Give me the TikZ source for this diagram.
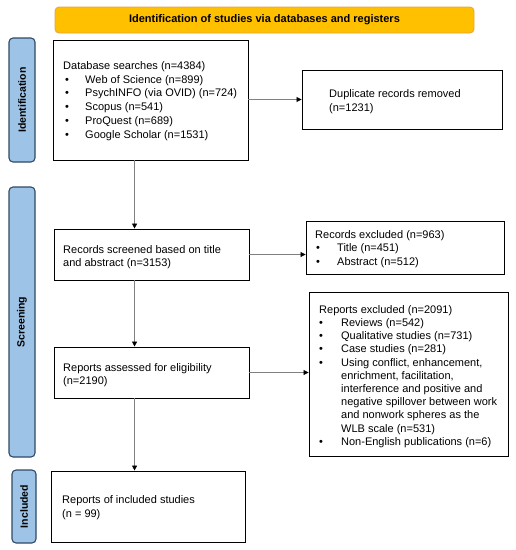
\documentclass[tikz,border=0pt]{standalone}
\usepackage{fontspec}
\setmainfont{Liberation Sans}
\usetikzlibrary{arrows.meta,calc}
\definecolor{bannerfill}{HTML}{FFC000}
\definecolor{bannerdraw}{HTML}{E6A33B}
\definecolor{sidefill}{HTML}{9DC3E6}
\definecolor{sidedraw}{HTML}{2E4A66}
\definecolor{linegray}{HTML}{808080}
\newcommand\myitem[2]{\hspace*{#1}\makebox[#2][l]{\textbullet}}
\newcommand\firstl{\rule{0pt}{10pt}}
\begin{document}
\begin{tikzpicture}[x=1pt,y=-1pt,
  box/.style={draw=black,line width=0.9pt,fill=white,inner sep=0pt},
  txt/.style={inner sep=0pt,anchor=north west,align=left,yshift=10pt},
  arr/.style={draw=linegray,line width=0.8pt,-{Triangle[length=5pt,width=5pt,color=black]}},
  side/.style={draw=sidedraw,fill=sidefill,line width=1.1pt,rounded corners=4pt,rotate=90,inner sep=0pt,
    font=\fontsize{10.5}{12}\bfseries\selectfont},
  banner/.style={draw=bannerdraw,fill=bannerfill,line width=0.8pt,rounded corners=4pt,inner sep=0pt,
    font=\fontsize{11}{13}\bfseries\selectfont},
]
\useasboundingbox (0,0) rectangle (516,550);

% banner
\node[banner, minimum width=419pt, minimum height=26pt] (ban) at (264.5,20) {Identification of studies via databases and registers};

% side bars
\node[side, minimum width=124pt, minimum height=26pt] (s1) at (22,100) {Identification};
\node[side, minimum width=270pt, minimum height=26pt] (s2) at (22,322) {Screening};
\node[side, minimum width=73pt, minimum height=24pt] (s3) at (24,506.5) {Included};

% boxes
\node[box, minimum width=195pt, minimum height=120pt] (b1) at (150.5,100) {};
\node[box, minimum width=200pt, minimum height=59pt] (dup) at (402,99.5) {};
\node[box, minimum width=195pt, minimum height=51pt] (scr) at (151.5,254.5) {};
\node[box, minimum width=198pt, minimum height=53pt] (rex) at (405,247.5) {};
\node[box, minimum width=195pt, minimum height=51pt] (ass) at (151.5,372.5) {};
\node[box, minimum width=199pt, minimum height=164pt] (repx) at (408.5,374) {};
\node[box, minimum width=194pt, minimum height=71pt] (inc) at (148,506.5) {};

% texts
\node[txt, font=\fontsize{11}{13.8}\selectfont] (t1) at (63,69) {\firstl Database searches (n=4384)\\
\myitem{2pt}{20pt}Web of Science (n=899)\\
\myitem{2pt}{20pt}PsychINFO (via OVID) (n=724)\\
\myitem{2pt}{20pt}Scopus (n=541)\\
\myitem{2pt}{20pt}ProQuest (n=689)\\
\myitem{2pt}{20pt}Google Scholar (n=1531)};

\node[txt, font=\fontsize{11}{14}\selectfont] (tdup) at (329,97) {\firstl Duplicate records removed\\(n=1231)};

\node[txt, font=\fontsize{11}{13}\selectfont] (tscr) at (63,253) {\firstl Records screened based on title\\and abstract (n=3153)};

\node[txt, font=\fontsize{11}{13.5}\selectfont] (trex) at (315,238) {\firstl Records excluded (n=963)\\
\myitem{1pt}{21pt}Title (n=451)\\
\myitem{1pt}{21pt}Abstract (n=512)};

\node[txt, font=\fontsize{11}{13}\selectfont] (tass) at (63,371) {\firstl Reports assessed for eligibility\\(n=2190)};

\node[txt, font=\fontsize{11}{13.2}\selectfont] (trepx) at (319,313) {\firstl Reports excluded (n=2091)\\
\myitem{0pt}{22pt}Reviews (n=542)\\
\myitem{0pt}{22pt}Qualitative studies (n=731)\\
\myitem{0pt}{22pt}Case studies (n=281)\\
\myitem{0pt}{22pt}Using conflict, enhancement,\\
\hspace*{22pt}enrichment, facilitation,\\
\hspace*{22pt}interference and positive and\\
\hspace*{22pt}negative spillover between work\\
\hspace*{22pt}and nonwork spheres as the\\
\hspace*{22pt}WLB scale (n=531)\\
\myitem{0pt}{22pt}Non-English publications (n=6)};

\node[txt, font=\fontsize{11}{14.5}\selectfont] (tinc) at (62,503) {\firstl Reports of included studies\\(n = 99)};

% connectors
\draw[arr] ([xshift=82pt]b1.south west) -- ([xshift=81pt]scr.north west);
\draw[arr] (b1.east |- dup.west) -- (dup.west);
\draw[arr] (scr.east) -- (scr.east -| rex.west);
\draw[arr] ([xshift=81pt]scr.south west) -- ([xshift=81pt]ass.north west);
\draw[arr] (ass.east) -- (ass.east -| repx.west);
\draw[arr] ([xshift=81pt]ass.south west) -- ([xshift=84pt]inc.north west);
\end{tikzpicture}
\end{document}
